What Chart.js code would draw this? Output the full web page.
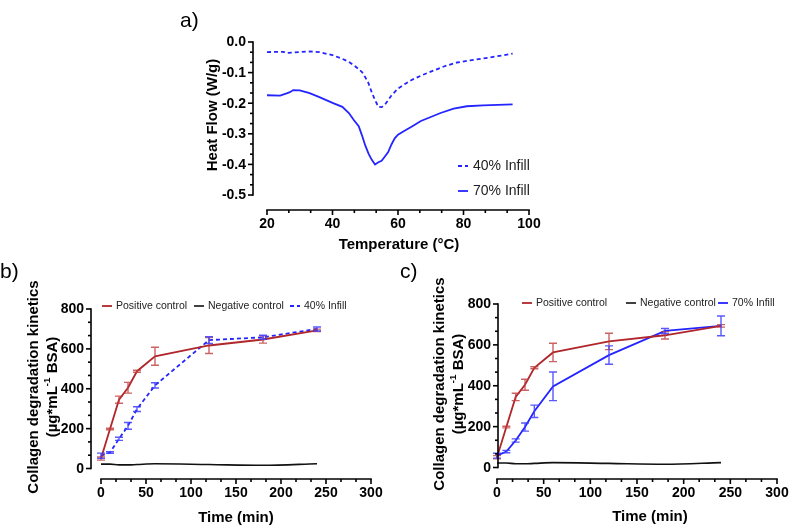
<!DOCTYPE html>
<html>
<head>
<meta charset="utf-8">
<script src="https://cdn.jsdelivr.net/npm/chart.js@4.4.1/dist/chart.umd.min.js"></script>
<style>
  html, body { margin: 0; padding: 0; background: #fff; }
  #wrap { position: relative; width: 789px; height: 526px; }
  #wrap canvas { position: absolute; left: 0; top: 0; }
</style>
</head>
<body>
<div id="wrap">
  <canvas id="dsc" width="789" height="526"></canvas>
  <canvas id="kin40" width="789" height="526"></canvas>
  <canvas id="kin70" width="789" height="526"></canvas>
</div>
<script>
// ---- panel a: DSC heat flow ----
var temp40 = [20, 25, 26, 30, 33, 36, 40, 43, 45, 47, 49, 50, 51, 52, 53, 54, 55, 56, 57, 58, 60, 62, 64, 67, 70, 74, 78, 82, 86, 90, 95];
var heat40 = [-0.033, -0.032, -0.036, -0.033, -0.031, -0.033, -0.043, -0.055, -0.065, -0.08, -0.098, -0.115, -0.135, -0.165, -0.19, -0.212, -0.213, -0.205, -0.19, -0.175, -0.152, -0.138, -0.125, -0.11, -0.097, -0.08, -0.067, -0.06, -0.054, -0.047, -0.038];
var temp70 = [20, 24, 26, 27, 28, 30, 33, 36, 40, 43, 45, 46.5, 48, 49, 50, 51, 52, 53, 54, 55, 56, 57, 58, 59, 60, 62, 64, 67, 70, 73, 77, 81, 86, 95];
var heat70 = [-0.174, -0.175, -0.168, -0.164, -0.157, -0.158, -0.167, -0.18, -0.199, -0.212, -0.232, -0.255, -0.275, -0.305, -0.338, -0.365, -0.385, -0.4, -0.393, -0.388, -0.374, -0.36, -0.335, -0.315, -0.303, -0.29, -0.278, -0.258, -0.245, -0.232, -0.218, -0.21, -0.207, -0.204];
var tempTicks = [20, 40, 60, 80, 100];
var heatTicks = [0, -0.1, -0.2, -0.3, -0.4, -0.5];

// ---- panels b, c: collagen degradation ----
var timeMin = [0, 10, 20, 30, 40, 60, 120, 180, 240];
var posMean = [50, 198, 345, 405, 488, 563, 617, 647, 693];
var posErr = [8, 4, 18, 27, 5, 45, 40, 18, 6];
var negMean = [22, 22, 18, 18, 20, 24, 20, 16, 24];
var infill40Mean = [64, 80, 149, 214, 298, 417, 644, 658, 700];
var infill40Err = [13, 4, 8, 17, 12, 13, 17, 10, 10];
var infill70Mean = [58, 78, 132, 198, 275, 397, 550, 668, 693];
var infill70Err = [12, 6, 8, 20, 30, 70, 45, 12, 48];
var timeTicks = [0, 50, 100, 150, 200, 250, 300];
var collagenTicks = [0, 200, 400, 600, 800];

var RED = "#B0262A";
var BLUE = "#2424FF";
var FONT = '"Liberation Sans", Arial, sans-serif';

function pts(xs, ys) {
  return xs.map(function (x, i) { return { x: x, y: ys[i] }; });
}

// draws a line of text made of segments (some superscript), centered at 0,0
function richText(ctx, segs, size) {
  var total = 0;
  segs.forEach(function (s) {
    ctx.font = "bold " + (s.sup ? size * 0.65 : size) + "px " + FONT;
    s.w = ctx.measureText(s.t).width;
    total += s.w;
  });
  var x = -total / 2;
  segs.forEach(function (s) {
    ctx.font = "bold " + (s.sup ? size * 0.65 : size) + "px " + FONT;
    ctx.textAlign = "left";
    ctx.textBaseline = "middle";
    ctx.fillText(s.t, x, s.sup ? -size * 0.35 : 0);
    x += s.w;
  });
}

// Prism-like detached axes, titles, legend and panel letter
var prismAxes = {
  id: "prismAxes",
  afterDraw: function (chart, args, o) {
    var ctx = chart.ctx, xs = chart.scales.x, ys = chart.scales.y;
    ctx.save();
    ctx.strokeStyle = "#000";
    ctx.fillStyle = "#000";
    ctx.lineWidth = 1.6;
    function seg(x1, y1, x2, y2) {
      ctx.beginPath(); ctx.moveTo(x1, y1); ctx.lineTo(x2, y2); ctx.stroke();
    }
    // x axis
    var xt = o.xTicks;
    seg(xs.getPixelForValue(xt[0]) - 0.8, o.xAxisY, xs.getPixelForValue(xt[xt.length - 1]) + 0.8, o.xAxisY);
    ctx.font = "bold 14px " + FONT;
    ctx.textAlign = "center";
    ctx.textBaseline = "top";
    xt.forEach(function (v, i) {
      var p = xs.getPixelForValue(v);
      seg(p, o.xAxisY, p, o.xAxisY + 5);
      ctx.fillText(String(v), p, o.xAxisY + 7);
      if (i < xt.length - 1) {
        for (var k = 1; k < 3; k++) {
          var q = xs.getPixelForValue(v + (xt[i + 1] - v) * k / 3);
          seg(q, o.xAxisY, q, o.xAxisY + 3);
        }
      }
    });
    // y axis
    var yt = o.yTicks;
    var yTop = ys.getPixelForValue(Math.max.apply(null, yt));
    var yBot = ys.getPixelForValue(Math.min.apply(null, yt));
    seg(o.yAxisX, yTop - 0.8, o.yAxisX, yBot + 0.8);
    ctx.textAlign = "right";
    ctx.textBaseline = "middle";
    yt.forEach(function (v, i) {
      var p = ys.getPixelForValue(v);
      seg(o.yAxisX - 5, p, o.yAxisX, p);
      ctx.fillText(o.yFormat(v), o.yAxisX - 7, p + 0.5);
      if (i < yt.length - 1) {
        for (var k = 1; k < 3; k++) {
          var q = ys.getPixelForValue(v + (yt[i + 1] - v) * k / 3);
          seg(o.yAxisX - 3, q, o.yAxisX, q);
        }
      }
    });
    // titles
    ctx.font = "bold 15px " + FONT;
    ctx.textAlign = "center";
    ctx.textBaseline = "middle";
    ctx.fillText(o.xTitle, o.xTitlePos[0], o.xTitlePos[1]);
    o.yTitle.forEach(function (line) {
      ctx.save();
      ctx.translate(line.x, o.yTitleY);
      ctx.rotate(-Math.PI / 2);
      richText(ctx, line.segs, 15);
      ctx.restore();
    });
    // legend
    var lg = o.legend;
    ctx.font = "normal " + lg.size + "px " + FONT;
    ctx.textAlign = "left";
    ctx.textBaseline = "middle";
    lg.items.forEach(function (it, i) {
      var ds = chart.data.datasets[i];
      ctx.save();
      ctx.strokeStyle = ds.borderColor;
      ctx.lineWidth = ds.borderWidth;
      ctx.setLineDash(ds.borderDash || []);
      seg(it.x, it.y, it.x + lg.sample, it.y);
      ctx.restore();
      ctx.fillStyle = "#222";
      ctx.fillText(ds.label, it.x + lg.sample + lg.gap, it.y + 0.5);
    });
    // panel letter
    ctx.fillStyle = "#000";
    ctx.font = "normal 21px " + FONT;
    ctx.textAlign = "left";
    ctx.textBaseline = "alphabetic";
    ctx.fillText(o.letter.t, o.letter.x, o.letter.y);
    ctx.restore();
  }
};

// mean +/- SD bars with caps
var errorBars = {
  id: "errorBars",
  afterDatasetsDraw: function (chart) {
    var ctx = chart.ctx, ys = chart.scales.y;
    chart.data.datasets.forEach(function (ds, di) {
      if (!ds.errors) return;
      var meta = chart.getDatasetMeta(di);
      ctx.save();
      ctx.strokeStyle = ds.errorColor;
      ctx.lineWidth = 1.4;
      meta.data.forEach(function (pt, i) {
        var v = ds.data[i].y, e = ds.errors[i];
        var t = ys.getPixelForValue(v + e), b = ys.getPixelForValue(v - e);
        ctx.beginPath();
        ctx.moveTo(pt.x, t); ctx.lineTo(pt.x, b);
        ctx.moveTo(pt.x - 4, t); ctx.lineTo(pt.x + 4, t);
        ctx.moveTo(pt.x - 4, b); ctx.lineTo(pt.x + 4, b);
        ctx.stroke();
      });
      ctx.restore();
    });
  }
};

Chart.register(prismAxes, errorBars);

function baseOptions(pad, xr, yr, axes) {
  return {
    responsive: false,
    animation: false,
    events: [],
    layout: { padding: pad },
    elements: { point: { radius: 0 }, line: { tension: 0 } },
    scales: {
      x: { type: "linear", display: false, min: xr[0], max: xr[1] },
      y: { type: "linear", display: false, min: yr[0], max: yr[1] }
    },
    plugins: { legend: { display: false }, tooltip: { enabled: false }, prismAxes: axes }
  };
}

var collagenTitle = function (x1, x2) {
  return [
    { x: x1, segs: [{ t: "Collagen degradation kinetics" }] },
    { x: x2, segs: [{ t: "(\u00b5g*mL" }, { t: "-1", sup: true }, { t: " BSA)" }] }
  ];
};

// a) DSC
new Chart(document.getElementById("dsc"), {
  type: "line",
  data: {
    datasets: [
      { label: "40% Infill", data: pts(temp40, heat40), borderColor: BLUE, borderWidth: 1.8, borderDash: [4, 3], clip: false },
      { label: "70% Infill", data: pts(temp70, heat70), borderColor: BLUE, borderWidth: 1.8, clip: false }
    ]
  },
  options: baseOptions({ left: 267, right: 260, top: 42, bottom: 331 }, [20, 100], [-0.5, 0], {
    xTicks: tempTicks, yTicks: heatTicks, xAxisY: 210, yAxisX: 253,
    yFormat: function (v) { return v.toFixed(1); },
    xTitle: "Temperature (\u00b0C)", xTitlePos: [399, 245],
    yTitle: [{ x: 213, segs: [{ t: "Heat Flow (W/g)" }] }], yTitleY: 115,
    legend: { size: 14, sample: 10, gap: 5, items: [{ x: 458, y: 166 }, { x: 458, y: 191 }] },
    letter: { t: "a)", x: 180, y: 27 }
  })
});

function kinetics(id, infillLabel, infillMean, infillErr, dash, pad, axes) {
  new Chart(document.getElementById(id), {
    type: "line",
    data: {
      datasets: [
        { label: "Positive control", data: pts(timeMin, posMean), errors: posErr, errorColor: "rgba(190,60,60,0.8)",
          borderColor: RED, borderWidth: 1.8, clip: false },
        { label: "Negative control", data: pts(timeMin, negMean), borderColor: "#111", borderWidth: 1.6,
          tension: 0.4, cubicInterpolationMode: "monotone", clip: false },
        { label: infillLabel, data: pts(timeMin, infillMean), errors: infillErr, errorColor: "rgba(60,60,255,0.85)",
          borderColor: BLUE, borderWidth: 1.8, borderDash: dash, clip: false }
      ]
    },
    options: baseOptions(pad, [0, 300], [0, 800], axes)
  });
}

// b) 40% infill
kinetics("kin40", "40% Infill", infill40Mean, infill40Err, [4, 3], { left: 101, right: 418, top: 309, bottom: 57.5 }, {
  xTicks: timeTicks, yTicks: collagenTicks, xAxisY: 479, yAxisX: 91,
  yFormat: function (v) { return String(v); },
  xTitle: "Time (min)", xTitlePos: [236, 518],
  yTitle: collagenTitle(34, 53), yTitleY: 387,
  legend: { size: 10.5, sample: 10, gap: 4, items: [{ x: 102, y: 306 }, { x: 194, y: 306 }, { x: 290, y: 306 }] },
  letter: { t: "b)", x: 0, y: 278 }
});

// c) 70% infill
kinetics("kin70", "70% Infill", infill70Mean, infill70Err, [], { left: 497, right: 12, top: 304, bottom: 58.5 }, {
  xTicks: timeTicks, yTicks: collagenTicks, xAxisY: 479, yAxisX: 498,
  yFormat: function (v) { return String(v); },
  xTitle: "Time (min)", xTitlePos: [650, 517],
  yTitle: collagenTitle(440, 459), yTitleY: 384,
  legend: { size: 10.5, sample: 10, gap: 4, items: [{ x: 522, y: 303 }, { x: 626, y: 303 }, { x: 718, y: 303 }] },
  letter: { t: "c)", x: 400, y: 278 }
});
</script>
</body>
</html>
